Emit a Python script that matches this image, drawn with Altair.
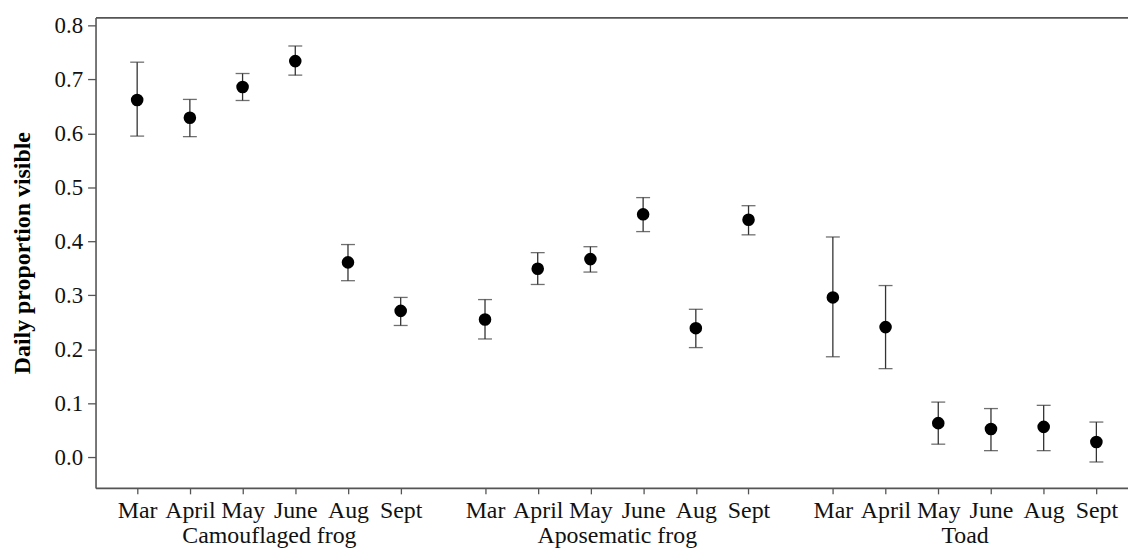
import altair as alt
import pandas as pd

groups = ["Camouflaged frog", "Aposematic frog", "Toad"]
months = ["Mar", "April", "May", "June", "Aug", "Sept"]

cam_mean = [0.662, 0.629, 0.686, 0.734, 0.361, 0.271]
cam_lo = [0.595, 0.594, 0.661, 0.708, 0.327, 0.244]
cam_hi = [0.732, 0.663, 0.711, 0.762, 0.394, 0.296]

apo_mean = [0.255, 0.349, 0.367, 0.450, 0.239, 0.440]
apo_lo = [0.219, 0.320, 0.343, 0.418, 0.203, 0.412]
apo_hi = [0.292, 0.379, 0.390, 0.481, 0.274, 0.466]

toad_mean = [0.296, 0.241, 0.063, 0.052, 0.056, 0.028]
toad_lo = [0.186, 0.164, 0.024, 0.012, 0.012, -0.009]
toad_hi = [0.408, 0.318, 0.102, 0.090, 0.096, 0.065]

GROUP_STEP = len(months) + 0.6

means = [cam_mean, apo_mean, toad_mean]
los = [cam_lo, apo_lo, toad_lo]
his = [cam_hi, apo_hi, toad_hi]

rows = []
for g, name in enumerate(groups):
    for m, mon in enumerate(months):
        rows.append({
            "pos": round(g * GROUP_STEP + m, 1),
            "group": name,
            "month": mon,
            "mean": means[g][m],
            "lo": los[g][m],
            "hi": his[g][m],
        })
df = pd.DataFrame(rows)

month_pos = list(df["pos"])
month_labels = list(df["month"])
group_pos = [round(g * GROUP_STEP + (len(months) - 1) / 2, 1) for g in range(len(groups))]


def js_list(vals):
    return "[" + ",".join(repr(v) if not isinstance(v, str) else "'" + v + "'" for v in vals) + "]"


month_expr = f"{js_list(month_labels)}[indexof({js_list(month_pos)}, round(datum.value*10)/10)]"
group_expr = f"{js_list(groups)}[indexof({js_list(group_pos)}, round(datum.value*10)/10)]"

FONT = "Liberation Serif"
xscale = alt.Scale(domain=[-0.79, 18.8], nice=False, zero=False)
yscale = alt.Scale(domain=[-0.057, 0.815], nice=False, zero=False)

yaxis = alt.Axis(
    title="Daily proportion visible",
    values=[0, 0.1, 0.2, 0.3, 0.4, 0.5, 0.6, 0.7, 0.8],
    format=".1f",
    tickSize=8,
    labelPadding=5,
    labelFontSize=23,
    titleFontWeight="bold",
    titleFontSize=24,
    titlePadding=20,
    titleFont=FONT,
    titleColor="#000",
)

month_axis = alt.Axis(
    title=None,
    values=month_pos,
    labelExpr=month_expr,
    tickSize=6,
    labelPadding=5,
    labelFontSize=24,
    labelOverlap=False,
    labelFlush=False,
)
group_axis = alt.Axis(
    title=None,
    orient="bottom",
    values=group_pos,
    labelExpr=group_expr,
    ticks=False,
    tickSize=0,
    domain=False,
    offset=36,
    labelPadding=0,
    labelFontSize=24,
    labelOverlap=False,
    labelFlush=False,
)
top_axis = alt.Axis(
    title=None,
    orient="top",
    labels=False,
    ticks=False,
)

base = alt.Chart(df)

bars = base.mark_rule(color="#333", strokeWidth=1.3).encode(
    x=alt.X("pos:Q", scale=xscale, axis=month_axis),
    y=alt.Y("lo:Q", scale=yscale, axis=yaxis),
    y2="hi:Q",
)
cap_lo = base.mark_tick(color="#333", orient="horizontal", size=14, thickness=1.3).encode(
    x=alt.X("pos:Q", scale=xscale, axis=group_axis),
    y=alt.Y("lo:Q", scale=yscale, axis=yaxis),
)
cap_hi = base.mark_tick(color="#333", orient="horizontal", size=14, thickness=1.3).encode(
    x=alt.X("pos:Q", scale=xscale, axis=top_axis),
    y=alt.Y("hi:Q", scale=yscale, axis=yaxis),
)
points = base.mark_point(filled=True, color="#000", size=160, opacity=1).encode(
    x=alt.X("pos:Q", scale=xscale, axis=None),
    y=alt.Y("mean:Q", scale=yscale, axis=yaxis),
)

chart = (
    alt.layer(bars, cap_lo, cap_hi, points)
    .resolve_axis(x="independent")
    .properties(
        width=1038,
        height=473,
        autosize=alt.AutoSizeParams(type="none"),
        padding={"left": 88, "top": 8, "right": 0, "bottom": 60},
        background="white",
    )
    .configure_view(stroke=None)
    .configure_axis(
        grid=False,
        domainColor="#555",
        domainWidth=1.6,
        tickColor="#555",
        tickWidth=1.3,
        labelFont=FONT,
        labelColor="#111",
    )
)

chart.save("out.html", embed_options={"renderer": "svg", "actions": False})
